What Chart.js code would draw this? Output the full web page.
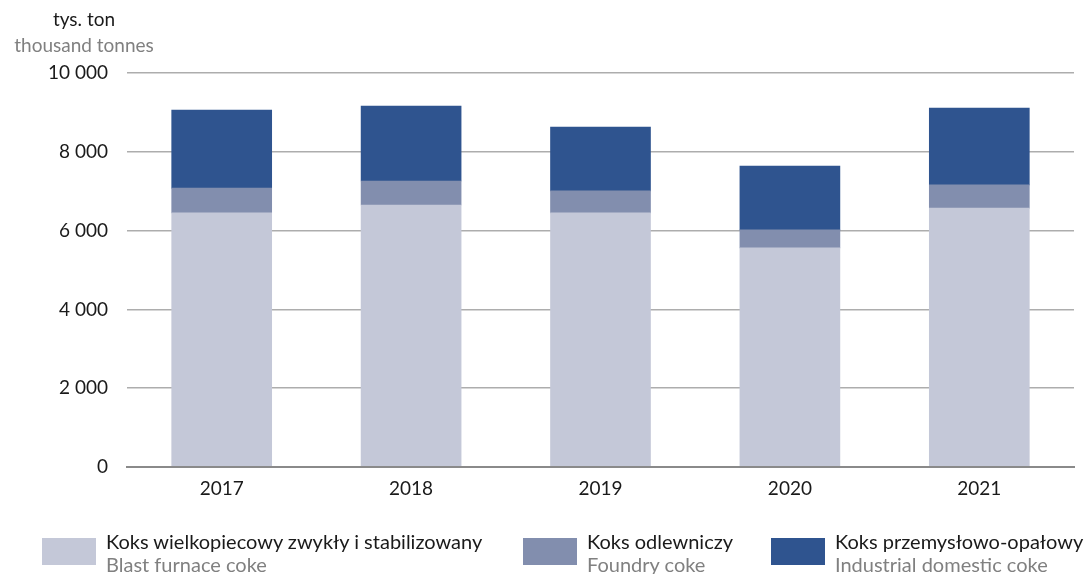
<!DOCTYPE html>
<html>
<head>
<meta charset="utf-8">
<script src="https://cdn.jsdelivr.net/npm/chart.js@4.4.0/dist/chart.umd.min.js"></script>
<style>
  body { margin: 0; background: #fff; font-family: Lato, sans-serif; }
  #wrap { position: relative; width: 1087px; height: 574px; overflow: hidden; }
  #unit { position: absolute; left: 4px; width: 160px; top: 6px; text-align: center; line-height: 26px; font-size: 19px; white-space: nowrap; }
  #unit .pl { color: #1a1a1a; }
  #unit .en { color: #808080; }
  .leg { position: absolute; top: 530px; }
  .leg .sw { position: absolute; left: 0; top: 8px; width: 54px; height: 27px; }
  .leg .txt { position: absolute; top: 0; left: 64px; white-space: nowrap; font-size: 20px; line-height: 23px; }
  .leg .pl { color: #1a1a1a; }
  .leg .en { color: #808080; }
</style>
</head>
<body>
<div id="wrap">
  <canvas id="chart" width="1087" height="574"></canvas>
  <div id="unit"><div class="pl">tys. ton</div><div class="en">thousand tonnes</div></div>
  <div id="legend"></div>
</div>
<script>
const years = ["2017", "2018", "2019", "2020", "2021"];
const blastFurnace = [6450, 6650, 6450, 5560, 6570];
const foundry = [630, 610, 560, 460, 590];
const industrialDomestic = [1980, 1900, 1620, 1620, 1950];
const yTicks = [0, 2000, 4000, 6000, 8000, 10000];

const seriesNames = [
  ["Koks wielkopiecowy zwykły i stabilizowany", "Blast furnace coke"],
  ["Koks odlewniczy", "Foundry coke"],
  ["Koks przemysłowo-opałowy", "Industrial domestic coke"]
];
const colors = ["#c4c8d8", "#828eae", "#2f548f"];
const legendX = [42, 523, 771];

// legend as html
const legend = document.getElementById("legend");
seriesNames.forEach((n, i) => {
  const d = document.createElement("div");
  d.className = "leg";
  d.style.left = legendX[i] + "px";
  d.innerHTML = `<div class="sw" style="background:${colors[i]}"></div>
    <div class="txt"><div class="pl">${n[0]}</div><div class="en">${n[1]}</div></div>`;
  legend.appendChild(d);
});

const fmt = v => String(v).replace(/\B(?=(\d{3})+(?!\d))/g, " ");

const ctx = document.getElementById("chart").getContext("2d");
new Chart(ctx, {
  type: 'bar',
  data: {
    labels: years,
    datasets: [
      { label: seriesNames[0][0], data: blastFurnace, backgroundColor: colors[0] },
      { label: seriesNames[1][0], data: foundry, backgroundColor: colors[1] },
      { label: seriesNames[2][0], data: industrialDomestic, backgroundColor: colors[2] }
    ]
  },
  options: {
    responsive: false,
    animation: false,
    layout: { padding: { top: 73, right: 13, left: 0, bottom: 0 } },
    plugins: { legend: { display: false }, tooltip: { enabled: false } },
    datasets: { bar: { barThickness: 100 } },
    scales: {
      x: {
        stacked: true,
        grid: { display: false, drawTicks: false },
        border: { display: true, color: '#8a8a8a', width: 2, z: 1 },
        ticks: { color: '#1a1a1a', font: { family: 'Lato', size: 19 }, padding: 10 },
        afterFit: s => { s.height = 107; }
      },
      y: {
        stacked: true,
        min: 0,
        max: 10000,
        afterBuildTicks: s => { s.ticks = yTicks.map(v => ({ value: v })); },
        grid: { color: '#adadad', lineWidth: 1.5, drawTicks: false },
        border: { display: false },
        ticks: { color: '#1a1a1a', font: { family: 'Lato', size: 19 }, padding: 19, callback: v => fmt(v) },
        afterFit: s => { s.width = 127; }
      }
    }
  }
});
</script>
</body>
</html>
